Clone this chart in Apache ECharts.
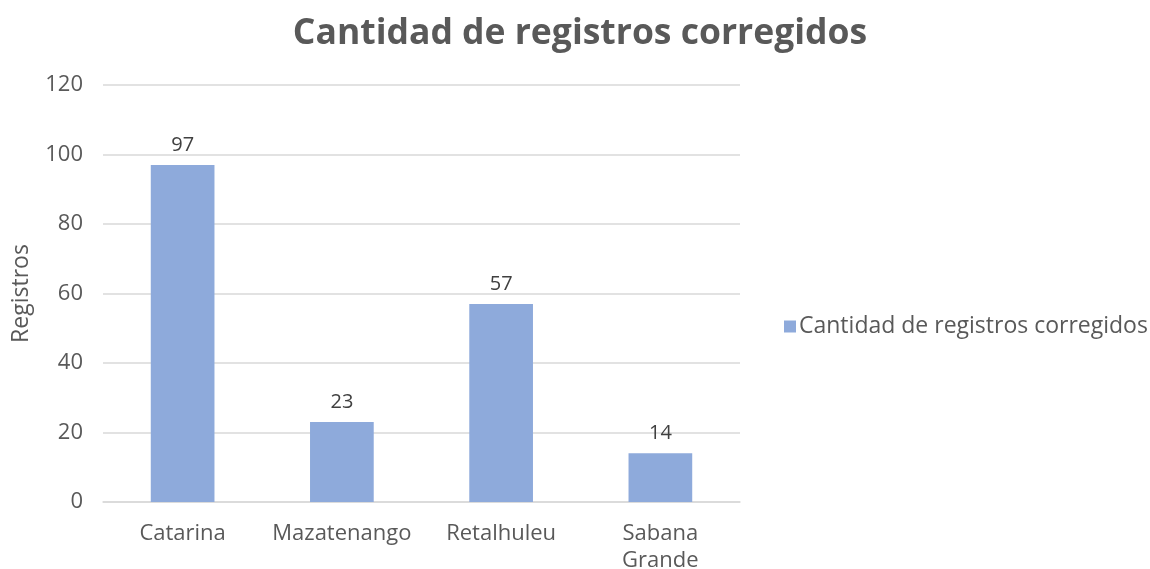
<!DOCTYPE html>
<html>
<head>
<meta charset="utf-8">
<script src="https://cdn.jsdelivr.net/npm/echarts@6/dist/echarts.min.js"></script>
<style>
  html, body { margin: 0; padding: 0; background: #fff; }
  #main { width: 1150px; height: 569px; }
</style>
</head>
<body>
<div id="main"></div>
<script>
// datos del gráfico
var categorias = ['Catarina', 'Mazatenango', 'Retalhuleu', 'Sabana\nGrande'];
var registros = [97, 23, 57, 14];
var nombreSerie = 'Cantidad de registros corregidos';

var fuente = '"Open Sans", "Noto Sans", sans-serif';
var gris = '#595959';

var myChart = echarts.init(document.getElementById('main'));

var option = {
    animation: false,
    title: {
        text: 'Cantidad de registros corregidos',
        left: 575,
        top: 11,
        textAlign: 'center',
        textStyle: { fontFamily: fuente, fontSize: 35.5, fontWeight: 'bold', color: gris }
    },
    legend: {
        data: [nombreSerie],
        left: 779,
        top: 310,
        itemWidth: 12,
        itemHeight: 12,
        itemGap: 6,
        icon: 'rect',
        textStyle: { fontFamily: fuente, fontSize: 23, color: gris, padding: [0, 0, 0, -2] }
    },
    grid: {
        left: 103,
        right: 410,
        top: 85,
        bottom: 67,
        outerBoundsMode: 'none'
    },
    xAxis: {
        type: 'category',
        data: categorias,
        axisTick: { show: false },
        axisLine: { lineStyle: { color: '#d9d9d9', width: 1.5 } },
        axisLabel: { interval: 0, fontFamily: fuente, fontSize: 22, color: gris, margin: 18, lineHeight: 27 }
    },
    yAxis: {
        type: 'value',
        min: 0,
        max: 120,
        interval: 20,
        name: 'Registros',
        nameLocation: 'middle',
        nameGap: 70,
        nameTextStyle: { fontFamily: fuente, fontSize: 23, color: gris },
        axisLine: { show: false },
        axisTick: { show: false },
        axisLabel: { fontFamily: fuente, fontSize: 22, color: gris, margin: 20 },
        splitLine: { lineStyle: { color: '#d9d9d9', width: 1.5 } }
    },
    series: [{
        name: nombreSerie,
        type: 'bar',
        data: registros,
        barWidth: '40%',
        itemStyle: { color: '#8eaadb' },
        label: {
            show: true,
            position: 'top',
            distance: 10,
            fontFamily: fuente,
            fontSize: 20,
            color: '#404040'
        }
    }]
};

myChart.setOption(option);
</script>
</body>
</html>
